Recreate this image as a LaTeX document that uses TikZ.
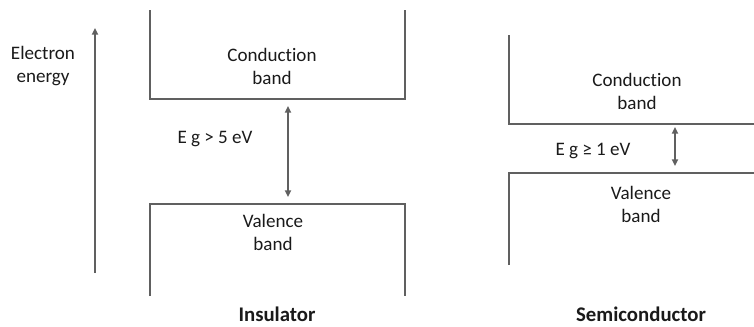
\documentclass[tikz,border=0pt]{standalone}
\usepackage{fontspec}
\setmainfont[Ligatures=NoCommon]{Carlito}
\usetikzlibrary{arrows.meta}
\definecolor{bandgray}{HTML}{606060}
\definecolor{inkgray}{HTML}{1A1A1A}

\begin{document}
\begin{tikzpicture}[
  x=0.75pt, y=-0.75pt,
  font=\fontsize{14.3}{17.3}\selectfont,
  band/.style={draw=bandgray, line width=2.2pt},
  lbl/.style={align=center, text=inkgray, inner sep=0pt},
  title/.style={text=inkgray, inner sep=0pt, anchor=base,
                font=\fontsize{15.6}{18}\selectfont\bfseries},
  gap/.style={{Triangle[length=5pt,width=4.5pt]}-{Triangle[length=5pt,width=4.5pt]},
              draw=bandgray, fill=bandgray, line width=1.4pt},
  axis/.style={-{Triangle[length=5pt,width=4.5pt]}, draw=bandgray, fill=bandgray,
               line width=1.4pt},
]
\useasboundingbox (0,0) rectangle (754,326);

% energy axis
\coordinate (e0) at (95,273);
\coordinate (e1) at (95,28);
\draw[axis] (e0) -- (e1);
\node[lbl] (elabel) at (43,66) {Electron\\energy};

% insulator
\draw[band] (150,10) -- (150,99) -- (405,99) -- (405,10);
\draw[band] (150,296) -- (150,204) -- (405,204) -- (405,296);
\node[lbl] (icb) at (272,66) {Conduction\\band};
\node[lbl] (ivb) at (273,232) {Valence\\band};
\coordinate (itop) at (288,106);
\coordinate (ibot) at (288,197);
\draw[gap] (itop) -- (ibot);
\node[lbl] (ieg) at (215,139) {E g > 5 eV};
\node[title] (ins) at (277,321) {Insulator};

% semiconductor
\draw[band] (509,35) -- (509,124) -- (756,124);
\draw[band] (509,265) -- (509,173) -- (756,173);
\node[lbl] (scb) at (637,91) {Conduction\\band};
\node[lbl] (svb) at (641,204) {Valence\\band};
\coordinate (stop) at (675,127);
\coordinate (sbot) at (675,166);
\draw[gap] (stop) -- (sbot);
\node[lbl] (seg) at (593,151) {E g ≥ 1 eV};
\node[title] (semi) at (641,321) {Semiconductor};
\end{tikzpicture}
\end{document}
